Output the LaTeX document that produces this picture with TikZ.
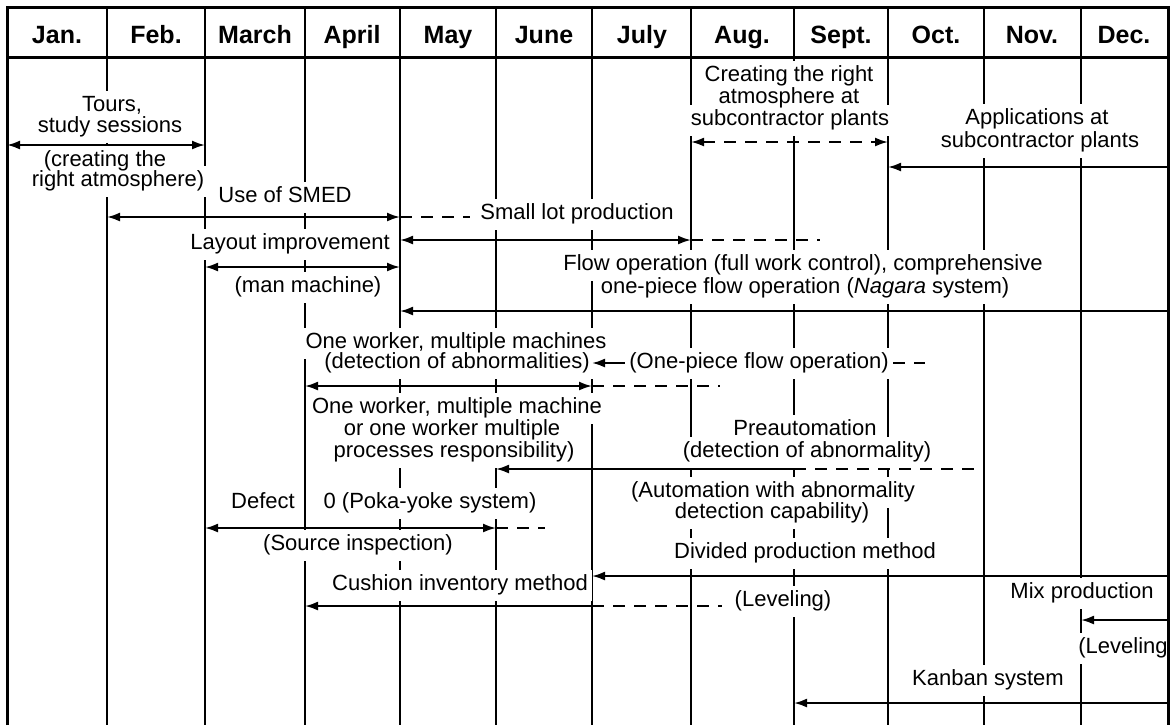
\documentclass[tikz,border=0pt]{standalone}
\usepackage{fontspec}
\setmainfont{Liberation Sans}
\usetikzlibrary{arrows.meta}
\pgfdeclarelayer{rules}
\pgfdeclarelayer{masks}
\pgfsetlayers{rules,masks,main}
% a label: a white patch on the masks layer that breaks the month rules,
% and the text itself on the main layer
\newcommand\lab[4][]{%
  \begin{pgfonlayer}{masks}
    \node[lbl, fill=white, #1] (#2-mask) at (#3) {\phantom{#4}};
  \end{pgfonlayer}
  \node[lbl, #1] (#2) at (#3) {#4};}
\begin{document}
\begin{tikzpicture}[
  x=0.5pt, y=-0.5pt,
  >={Latex[length=6.5pt,width=4.5pt]},
  gridline/.style={line width=0.9pt},
  border/.style={line width=1.5pt},
  month/.style={font=\fontsize{12.5}{14}\selectfont\bfseries, inner sep=0pt, anchor=base},
  lbl/.style={inner xsep=2pt, inner ysep=2.6pt, text height=8pt, text depth=2.3pt,
              font=\fontsize{11}{13}\selectfont},
  span/.style={line width=1pt, <->},
  tobegin/.style={line width=1pt, <-},
  dashtail/.style={line width=1pt, dash pattern=on 6pt off 4.5pt},
]
\useasboundingbox (0,0) rectangle (1170,725);

% month boundaries
\foreach \gx [count=\gi from 0] in {7,107,205,305,400,496,592,691,794,888,984,1081,1168}
  \coordinate (g\gi) at (\gx,7);
\coordinate (bot) at (0,725);
\coordinate (hdr) at (0,57);

% grid and frame
\begin{pgfonlayer}{rules}
  \foreach \gi in {1,...,11} \draw[gridline] (g\gi) -- (g\gi |- bot);
\end{pgfonlayer}
\draw[border] (g0 |- bot) -- (g0) -- (g12) -- (g12 |- bot);
\draw[border] (g0 |- hdr) -- (g12 |- hdr);

% month headings
\foreach \cx/\mname [count=\mi] in {57/Jan., 156/Feb., 255/March, 352/April, 448/May,
    544/June, 642/July, 742/Aug., 841/Sept., 936/Oct., 1032/Nov., 1124/Dec.}
  \node[month] (m\mi) at (\cx,43) {\mname};

% activity labels
\lab{tours}{112,106}{Tours,}
\lab{study}{110,127}{study sessions}
\lab{creat}{105,161}{(creating the}
\lab{atmo}{118,181}{right atmosphere)}
\lab{subA}{789,76}{Creating the right}
\lab{subB}{789,98}{atmosphere at}
\lab{subC}{790,120}{subcontractor plants}
\lab{appA}{1037,119}{Applications at}
\lab{appB}{1040,142}{subcontractor plants}
\lab{smed}{285,197}{Use of SMED}
\lab{smallLot}{577,214}{Small lot production}
\lab{layout}{290,244}{Layout improvement}
\lab{manMach}{308,287}{(man machine)}
\lab{flowA}{803,265}{Flow operation (full work control), comprehensive}
\lab{flowB}{805,288}{one-piece flow operation (\textit{Nagara} system)}
\lab{owA}{456,343}{One worker, multiple machines}
\lab{owB}{457,363}{(detection of abnormalities)}
\lab{onePiece}{759,363}{(One-piece flow operation)}
\lab{owC}{457,408}{One worker, multiple machine}
\lab{owD}{452,430}{or one worker multiple}
\lab{owE}{454,452}{processes responsibility)}
\lab{preA}{805,430}{Preautomation}
\lab{preB}{807,452}{(detection of abnormality)}
\lab{autoA}{773,492}{(Automation with abnormality}
\lab{autoB}{772,513}{detection capability)}
\lab{defect}{263,503}{Defect}
\lab{pokaYoke}{430,503}{0 (Poka-yoke system)}
\lab{source}{358,545}{(Source inspection)}
\lab{divided}{805,553}{Divided production method}
\lab{cushion}{460,585}{Cushion inventory method}
\lab{levelA}{783,601}{(Leveling)}
\lab{mix}{1082,593}{Mix production}
\lab[anchor=west, inner xsep=0.5pt]{levelB}{1077,648}{(Leveling}
\lab{kanban}{988,680}{Kanban system}

% rows of the timeline arrows
\coordinate (rTours) at (0,145);
\coordinate (rSub) at (0,142);
\coordinate (rApp) at (0,167);
\coordinate (rSmed) at (0,217);
\coordinate (rLayout) at (0,240);
\coordinate (rMan) at (0,267);
\coordinate (rFlow) at (0,311);
\coordinate (rWorker) at (0,386);
\coordinate (rPre) at (0,469);
\coordinate (rPoka) at (0,528);
\coordinate (rDivided) at (0,576);
\coordinate (rCushion) at (0,606);
\coordinate (rMix) at (0,620);
\coordinate (rKanban) at (0,703);
% loose ends of the dashed continuations
\coordinate (smedEnd) at (470,217);
\coordinate (layoutEnd) at (820,240);
\coordinate (onePieceEnd) at (925,363);
\coordinate (workerEnd) at (720,386);
\coordinate (pokaEnd) at (545,528);
\coordinate (cushionEnd) at (722,606);

% timeline arrows
\draw[span] (g0 |- rTours) -- (g2 |- rTours);
\draw[span, dashtail] (g7 |- rSub) -- (g9 |- rSub);
\draw[tobegin] (g9 |- rApp) -- (g12 |- rApp);
\draw[span] (g1 |- rSmed) -- (g4 |- rSmed);
\draw[dashtail] (g4 |- rSmed) -- (smedEnd);
\draw[span] (g4 |- rLayout) -- (g7 |- rLayout);
\draw[dashtail] (g7 |- rLayout) -- (layoutEnd);
\draw[span] (g2 |- rMan) -- (g4 |- rMan);
\draw[tobegin] (g4 |- rFlow) -- (g12 |- rFlow);
\draw[tobegin] (g6 |- onePiece.west) -- (onePiece.west);
\draw[dashtail] (onePiece.east) -- (onePieceEnd);
\draw[span] (g3 |- rWorker) -- (g6 |- rWorker);
\draw[dashtail] (g6 |- rWorker) -- (workerEnd);
\draw[tobegin] (g5 |- rPre) -- (g8 |- rPre);
\draw[dashtail] (g8 |- rPre) -- (g10 |- rPre);
\draw[span] (g2 |- rPoka) -- (g5 |- rPoka);
\draw[dashtail] (g5 |- rPoka) -- (pokaEnd);
\draw[tobegin] (g6 |- rDivided) -- (g12 |- rDivided);
\draw[tobegin] (g3 |- rCushion) -- (g6 |- rCushion);
\draw[dashtail] (g6 |- rCushion) -- (cushionEnd);
\draw[tobegin] (g11 |- rMix) -- (g12 |- rMix);
\draw[tobegin] (g8 |- rKanban) -- (g12 |- rKanban);
\end{tikzpicture}
\end{document}
